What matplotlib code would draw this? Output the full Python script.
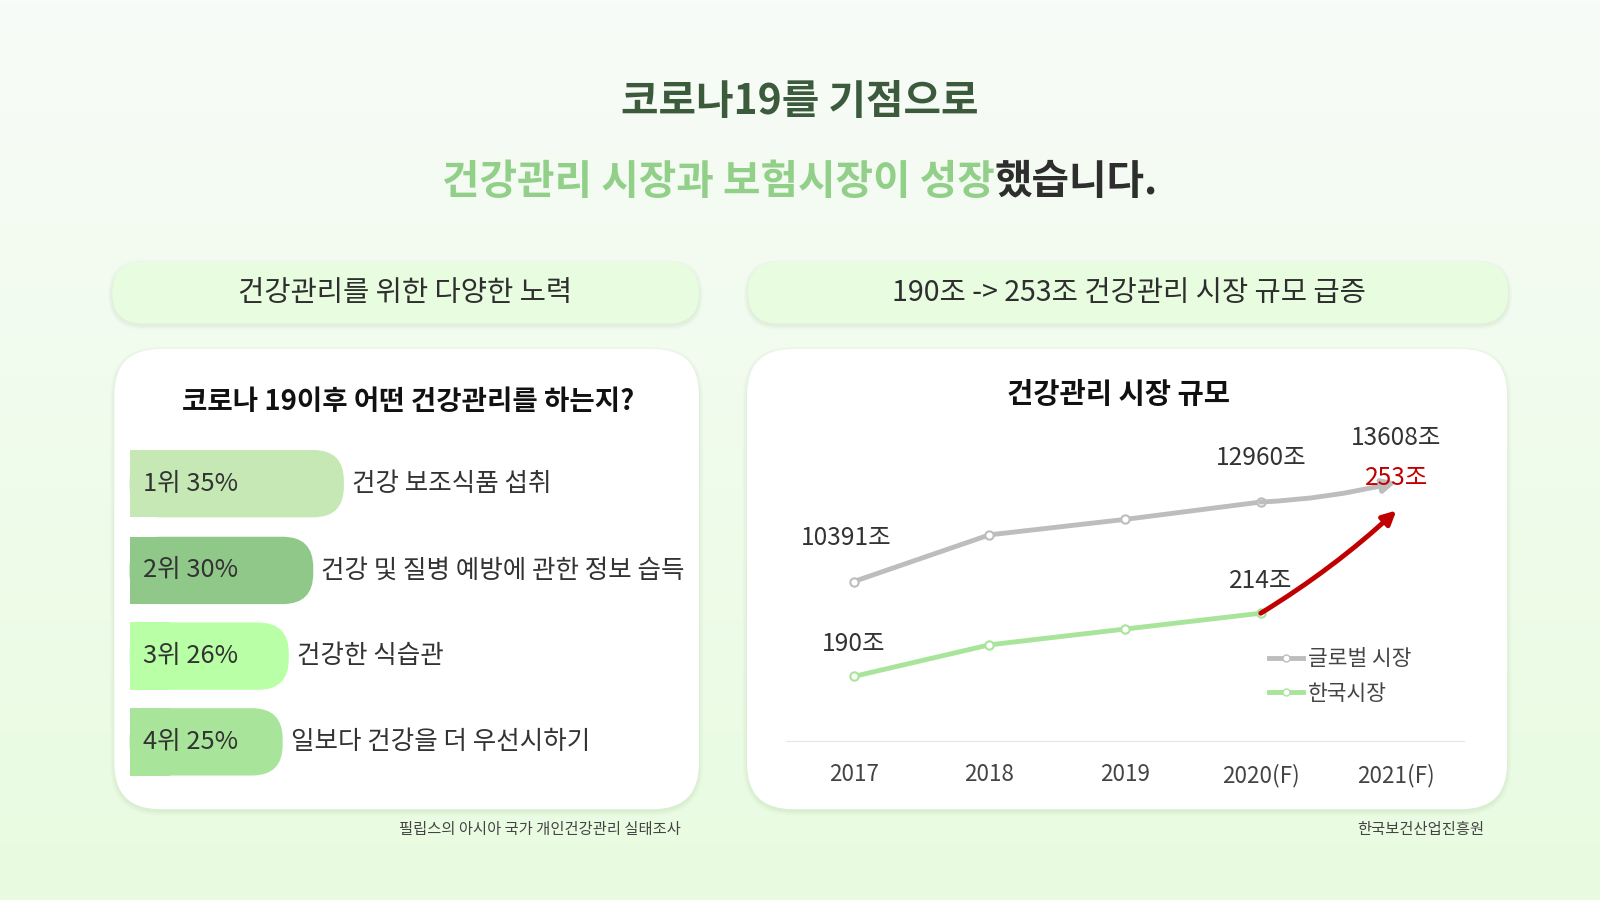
import numpy as np
import matplotlib.pyplot as plt
from matplotlib.patches import FancyBboxPatch, Rectangle
from matplotlib.lines import Line2D

plt.rcParams['font.family'] = ['Noto Sans CJK KR', 'DejaVu Sans']

# data
ranks = ['1위 35%', '2위 30%', '3위 26%', '4위 25%']
shares = [35, 30, 26, 25]
items = ['건강 보조식품 섭취', '건강 및 질병 예방에 관한 정보 습득', '건강한 식습관', '일보다 건강을 더 우선시하기']
bar_colors = ['#c5e8b5', '#8fc888', '#b8ffa5', '#a8e59a']

years = ['2017', '2018', '2019', '2020(F)', '2021(F)']
global_market = [10391, 11900, 12400, 12960, 13608]
korea_market = [190, 202, 208, 214, 253]
global_labels = {0: '10391조', 3: '12960조', 4: '13608조'}
korea_labels = {0: '190조', 3: '214조', 4: '253조'}

W, H = 1568, 882
S = 1600 / W
fig = plt.figure(figsize=(16, 9), dpi=100)
bg = fig.add_axes([0, 0, 1, 1])
bg.set_xlim(0, W)
bg.set_ylim(H, 0)
bg.axis('off')

grad = np.linspace(0, 1, 256)[:, None]
from matplotlib.colors import LinearSegmentedColormap
cmap = LinearSegmentedColormap.from_list('g', ['#f8fbf8', '#e8fbe0'])
bg.imshow(grad, cmap=cmap, extent=[0, W, H, 0], aspect='auto', zorder=0)


def fs(px):
    return px * 0.72 * S


def box(x0, y0, x1, y1, color, r, shadow=True, z=1):
    if shadow:
        for i, a in enumerate([0.05, 0.04, 0.03]):
            d = 2 + i * 3
            bg.add_patch(FancyBboxPatch((x0 - d / 2, y0 - d / 2 + 2), x1 - x0 + d, y1 - y0 + d,
                                        boxstyle=f'round,pad=0,rounding_size={r + d / 2}',
                                        fc='#6a9a60', ec='none', alpha=a, zorder=z))
    bg.add_patch(FancyBboxPatch((x0, y0), x1 - x0, y1 - y0,
                                boxstyle=f'round,pad=0,rounding_size={r}',
                                fc=color, ec='none', zorder=z + 0.5))


# titles
bg.text(784, 100, '코로나19를 기점으로', ha='center', va='center', fontsize=fs(40),
        fontweight='bold', color='#3c5a3c')
bg.text(975, 178, '건강관리 시장과 보험시장이 성장', ha='right', va='center', fontsize=fs(40),
        fontweight='bold', color='#92d08a')
bg.text(975, 178, '했습니다.', ha='left', va='center', fontsize=fs(40),
        fontweight='bold', color='#2e2e2e')

# headers and cards
box(110, 257, 685, 317, '#e8fce0', 30)
box(733, 257, 1478, 317, '#e8fce0', 30)
bg.text(397, 287, '건강관리를 위한 다양한 노력', ha='center', va='center', fontsize=fs(28), color='#2e2e2e')
bg.text(1106, 287, '190조 -> 253조 건강관리 시장 규모 급증', ha='center', va='center', fontsize=fs(28),
        color='#2e2e2e', fontweight='medium')
box(112, 342, 685, 793, 'white', 45)
box(732, 342, 1477, 793, 'white', 45)

# left: survey bars
bg.text(400, 394, '코로나 19이후 어떤 건강관리를 하는지?', ha='center', va='center', fontsize=fs(27),
        fontweight='bold', color='#111111')
tops = [441, 526, 610, 694]
for rank, share, item, c, y in zip(ranks, shares, items, bar_colors, tops):
    right = 127 + share * 6.0
    bg.add_patch(FancyBboxPatch((127, y), right - 127, 66, boxstyle='round,pad=0,rounding_size=30',
                                fc=c, ec='none', zorder=3))
    bg.add_patch(Rectangle((127, y), 40, 66, fc=c, ec='none', zorder=3))
    bg.text(140, y + 33, rank, ha='left', va='center', fontsize=fs(25), color='#333333', zorder=4)
    bg.text(right + 8, y + 33, item, ha='left', va='center', fontsize=fs(25), color='#333333', zorder=4)

bg.text(667, 813, '필립스의 아시아 국가 개인건강관리 실태조사', ha='right', va='center', fontsize=fs(15), color='#444444')
bg.text(1455, 813, '한국보건산업진흥원', ha='right', va='center', fontsize=fs(15), color='#444444')

# right: line chart
bg.text(1096, 386, '건강관리 시장 규모', ha='center', va='center', fontsize=fs(28),
        fontweight='bold', color='#111111')
ax = fig.add_axes([770 / W, 1 - 726 / H, 665 / W, 326 / H])
ax.patch.set_alpha(0)
ax2 = ax.twinx()
x = np.arange(len(years))
ax.set_xlim(-0.5, 4.5)
ax.set_ylim(5252, 15991)
ax2.set_ylim(165.6, 291.8)
for a in (ax, ax2):
    for s in a.spines.values():
        s.set_visible(False)
    a.set_yticks([])
ax.spines['bottom'].set_visible(True)
ax.spines['bottom'].set_color('#e6e6e6')
ax.set_xticks(x)
ax.set_xticklabels(years, fontsize=fs(22), color='#444444')
ax.tick_params(axis='x', length=0, pad=16 * S)

gray, green, red = '#bdbdbd', '#a8e59a', '#c00000'
ax.plot(x[:4], global_market[:4], color=gray, lw=3.5, marker='o', ms=6, mfc='white', mec=gray, mew=1.5)
ax.annotate('', xy=(x[4], global_market[4]), xytext=(x[3], global_market[3]),
            arrowprops=dict(arrowstyle='-|>,head_length=0.8,head_width=0.4', color=gray, lw=3.5,
                            connectionstyle='arc3,rad=0.05', shrinkA=0, shrinkB=0))
ax2.plot(x[:4], korea_market[:4], color=green, lw=3.5, marker='o', ms=6, mfc='white', mec=green, mew=1.5)
ax2.annotate('', xy=(x[4], korea_market[4]), xytext=(x[3], korea_market[3]),
             arrowprops=dict(arrowstyle='-|>,head_length=0.8,head_width=0.4', color=red, lw=3.5,
                             connectionstyle='arc3,rad=0.05', shrinkA=0, shrinkB=0))
for i, t in global_labels.items():
    ax.annotate(t, (x[i], global_market[i]), xytext=(-5 if i == 0 else 0, 22), textcoords='offset points',
                ha='center', va='bottom', fontsize=fs(24), color='#333333')
for i, t in korea_labels.items():
    ax2.annotate(t, (x[i], korea_market[i]), xytext=(0, 14), textcoords='offset points',
                 ha='center', va='bottom', fontsize=fs(24), color=red if i == 4 else '#333333')

handles = [Line2D([], [], color=gray, lw=3.5, marker='o', ms=5, mfc='white', mec=gray),
           Line2D([], [], color=green, lw=3.5, marker='o', ms=5, mfc='white', mec=green)]
ax.legend(handles, ['글로벌 시장', '한국시장'], loc='lower right', bbox_to_anchor=(0.95, 0.05),
          frameon=False, fontsize=fs(21), handlelength=1.6, handletextpad=0.2, labelspacing=0.6,
          labelcolor='#444444')

fig.savefig('out.png', dpi=100)
